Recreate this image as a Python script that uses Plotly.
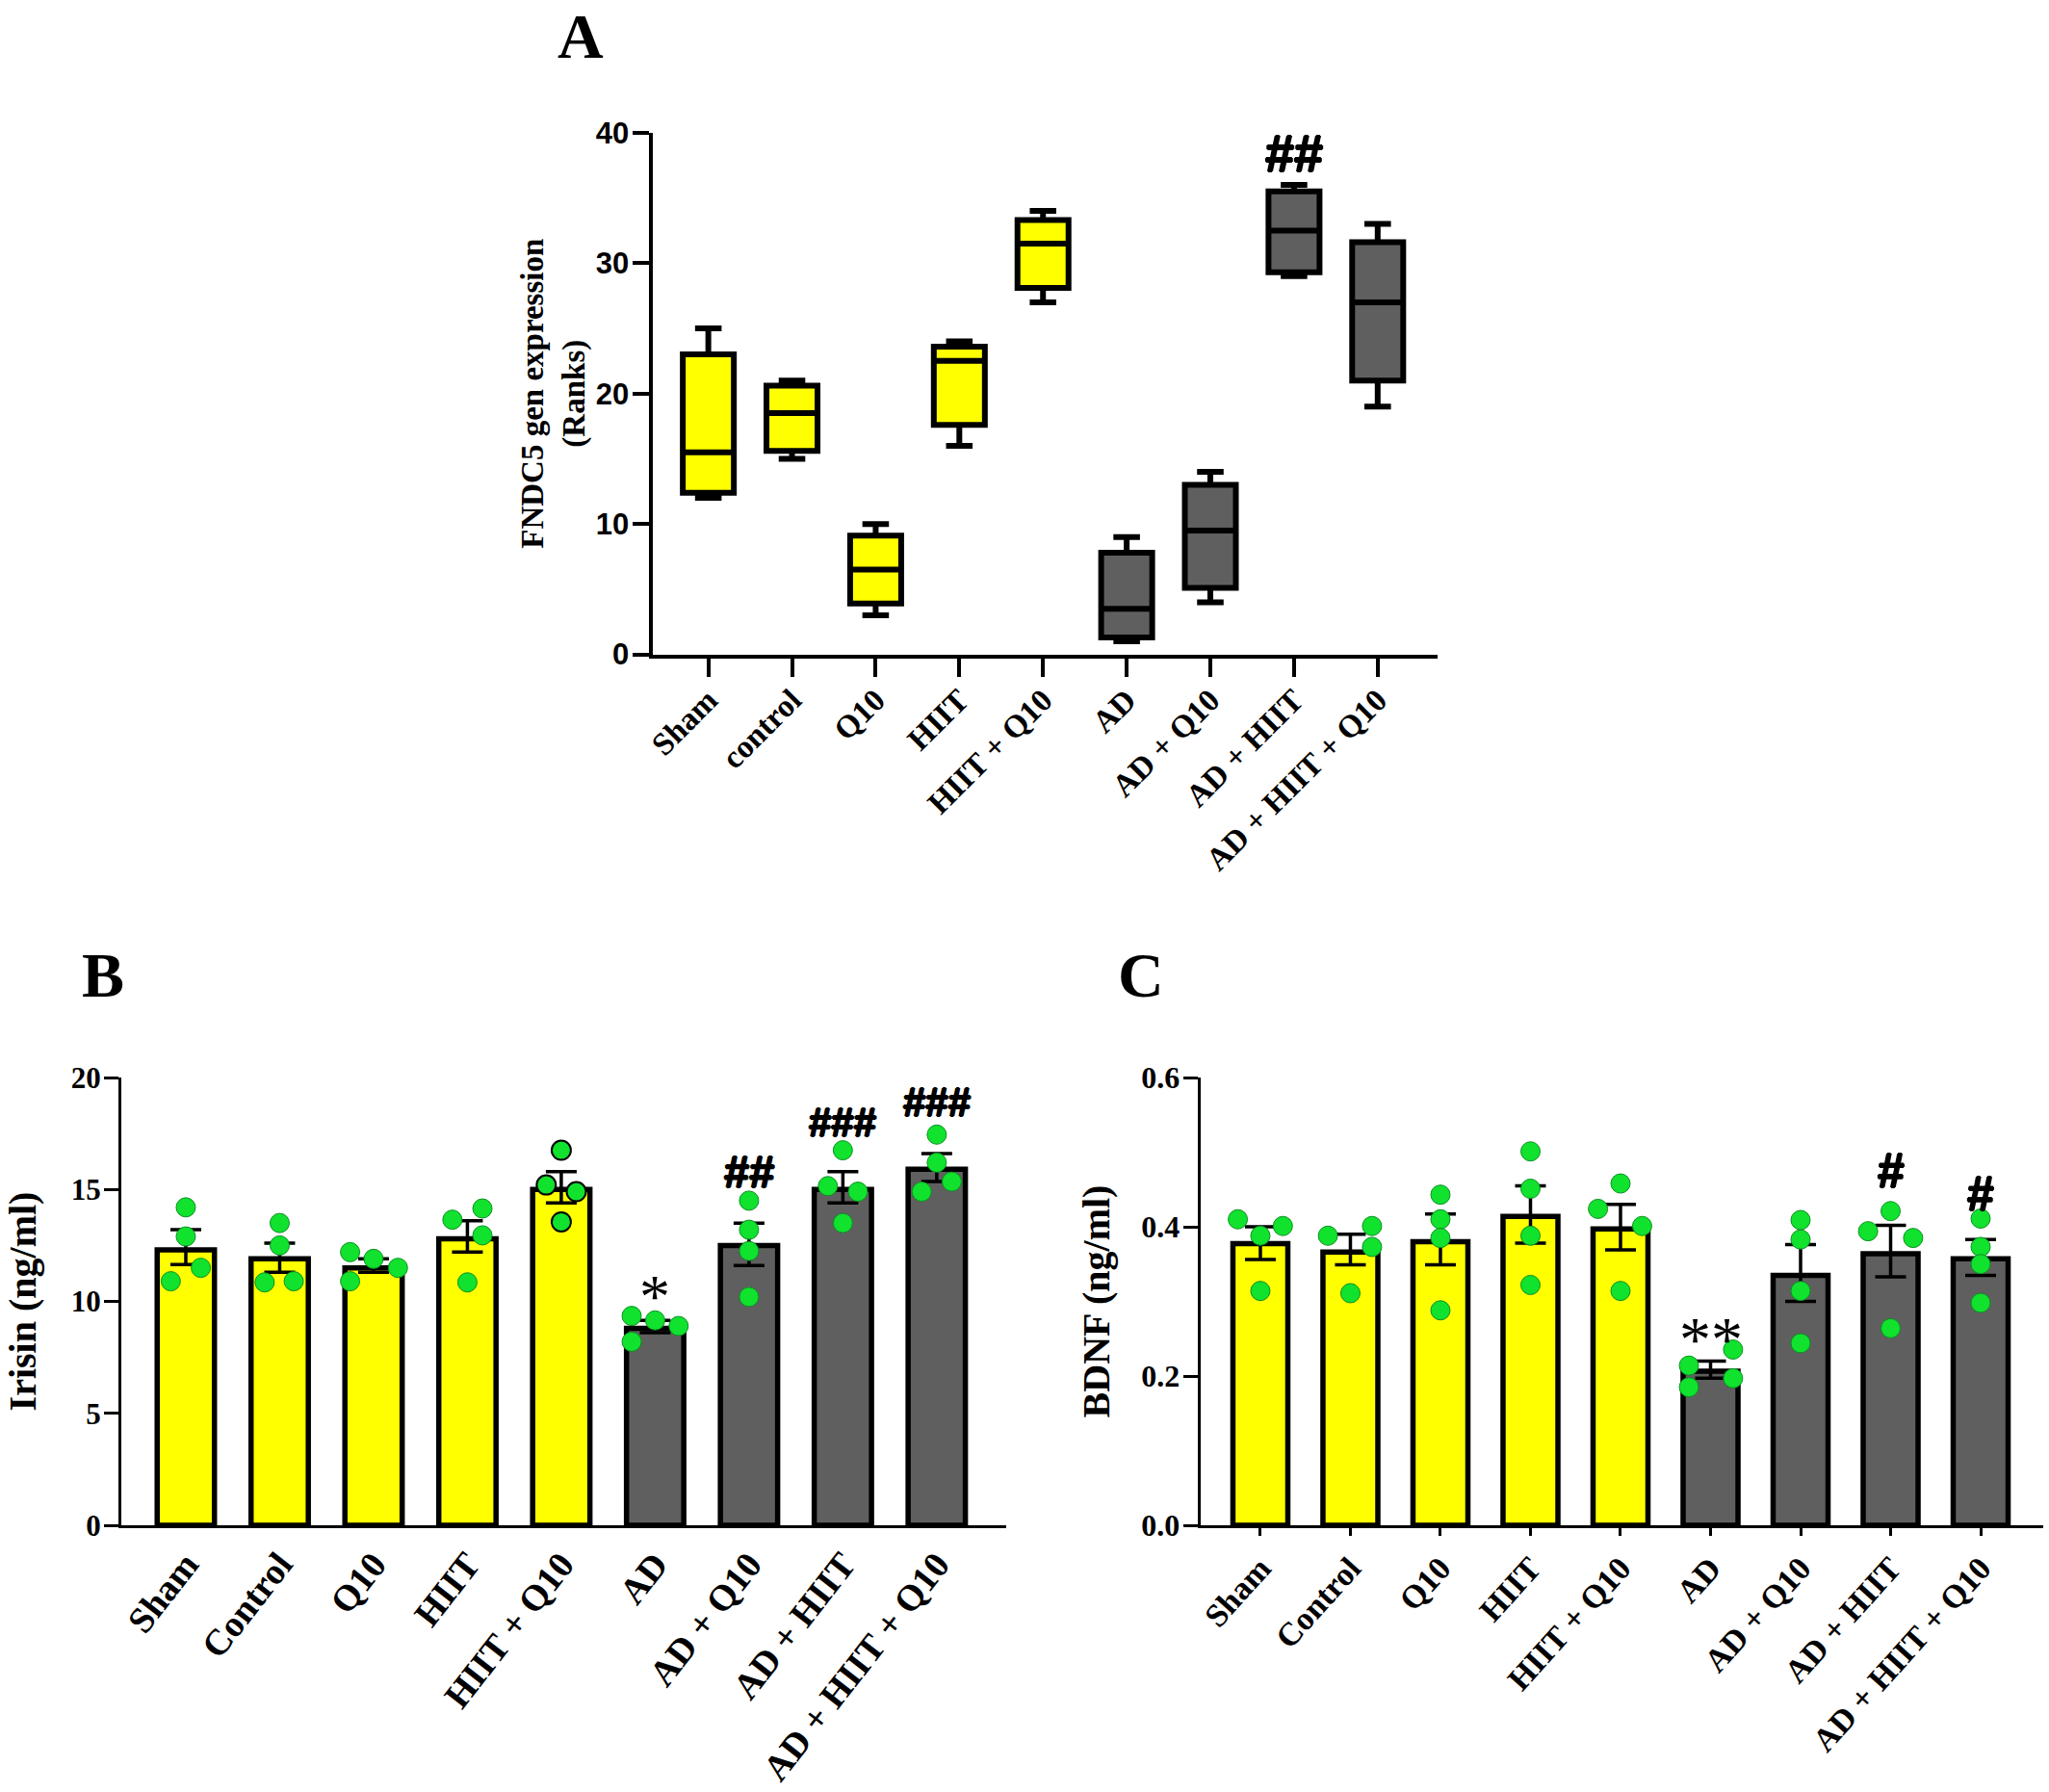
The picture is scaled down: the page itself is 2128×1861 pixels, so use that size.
import plotly.graph_objects as go

W, H = 2128, 1861
SERIF = "Liberation Serif"
NARROW = "Liberation Sans Narrow, Liberation Sans"
YELLOW, GRAY, GREEN = "#FFFF00", "#5F5F5F", "#10E22E"

labels_a = ["Sham", "control", "Q10", "HIIT", "HIIT + Q10", "AD", "AD + Q10", "AD + HIIT", "AD + HIIT + Q10"]
labels_bc = ["Sham", "Control", "Q10", "HIIT", "HIIT + Q10", "AD", "AD + Q10", "AD + HIIT", "AD + HIIT + Q10"]
bar_colors = [YELLOW] * 5 + [GRAY] * 4

# Panel A box statistics
a_low = [12, 15, 3, 16, 27, 1, 4, 29, 19]
a_q1 = [12.4, 15.6, 3.9, 17.6, 28.1, 1.3, 5.1, 29.3, 21]
a_med = [15.5, 18.5, 6.5, 22.5, 31.5, 3.5, 9.5, 32.5, 27]
a_q3 = [23, 20.6, 9.1, 23.6, 33.3, 7.8, 13, 35.5, 31.6]
a_high = [25, 21, 10, 24, 34, 9, 14, 36, 33]

# Panel B means, error bars and individual points
b_mean = [12.3, 11.9, 11.5, 12.8, 15.0, 8.8, 12.5, 15.0, 15.9]
b_hi = [13.2, 12.6, 11.9, 13.6, 15.8, 9.15, 13.5, 15.8, 16.6]
b_lo = [11.65, 11.3, 11.3, 12.2, 14.4, 8.6, 11.6, 14.4, 15.35]
b_points = [
    [14.2, 12.9, 11.5, 10.9], [13.5, 12.5, 10.85, 10.9], [12.2, 11.9, 11.5, 10.9],
    [14.15, 13.65, 12.95, 10.85], [16.75, 15.2, 14.9, 13.55], [9.35, 9.15, 8.9, 8.2],
    [14.5, 13.2, 12.25, 10.2], [16.75, 15.15, 14.9, 13.5], [17.45, 16.2, 15.35, 14.9],
]
b_jitter = [
    [0, 0, .16, -.16], [0, 0, -.16, .15], [-.25, 0, .26, -.25],
    [.16, -.16, .16, 0], [0, -.16, .16, 0], [-.25, 0, .25, -.25],
    [0, 0, 0, 0], [0, -.16, .16, 0], [0, 0, .16, -.16],
]

# Panel C means, error bars and individual points
c_mean = [.3775, .366, .38, .414, .397, .2065, .335, .364, .357]
c_hi = [.40, .39, .417, .455, .43, .22, .376, .402, .383]
c_lo = [.356, .349, .349, .378, .369, .197, .30, .333, .335]
c_points = [
    [.41, .401, .388, .314], [.388, .401, .373, .311], [.443, .41, .385, .288],
    [.501, .451, .388, .322], [.458, .424, .401, .314], [.2355, .214, .197, .185],
    [.409, .383, .314, .244], [.421, .394, .385, .264], [.411, .373, .35, .298],
]
c_jitter = [
    [-.25, .25, 0, 0], [-.25, .24, .24, 0], [0, 0, 0, 0],
    [0, 0, 0, 0], [0, -.25, .24, 0], [.25, -.24, .25, -.24],
    [0, 0, 0, 0], [0, -.25, .25, 0], [0, 0, 0, 0],
]

# significance marks: (category index, height, text, font size)
a_marks = [(7, 38.4, "##", 54)]
b_marks = [(5, 10.2, "*", 64), (6, 15.8, "##", 47), (7, 18.0, "###", 42), (8, 18.9, "###", 42)]
c_marks = [(5, .25, "**", 66), (7, .475, "#", 50), (8, .444, "#", 50)]

fig = go.Figure()


def dom_x(a, b):
    return [a / W, b / W]


def dom_y(top, bottom):
    return [1 - bottom / H, 1 - top / H]


def axes(n, xdom, ydom, xr, yr, ticks, ticktext, title, tick_font, xfont, line, xticklen, ylen, standoff, angle, xpad):
    xa = "xaxis" if n == 1 else f"xaxis{n}"
    ya = "yaxis" if n == 1 else f"yaxis{n}"
    fig.update_layout({
        xa: dict(domain=xdom, range=xr, tickmode="array", tickvals=list(range(9)), ticktext=ticktext,
                 tickangle=angle, showgrid=False, zeroline=False, showline=True, linecolor="black",
                 linewidth=line, ticks="outside" if xticklen else "", ticklen=xticklen or 1, tickwidth=line,
                 tickcolor="black", tickfont=xfont, ticklabelstandoff=xpad,
                 anchor=f"y{'' if n == 1 else n}", fixedrange=True),
        ya: dict(domain=ydom, range=yr, tickmode="array", tickvals=ticks[0], ticktext=ticks[1],
                 showgrid=False, zeroline=False, showline=True, linecolor="black", linewidth=line,
                 ticks="outside", ticklen=ylen, tickwidth=line, tickcolor="black", tickfont=tick_font,
                 ticklabelstandoff=-3, anchor=f"x{'' if n == 1 else n}", fixedrange=True,
                 title=dict(text=title[0], font=title[1], standoff=standoff)),
    })


def marks(items, xref, yref):
    for x, y, t, size in items:
        star = t.startswith("*")
        font = dict(family=SERIF if star else NARROW, size=size, color="black")
        if not star:
            font["shadow"] = "1px 0 0 black, -1px 0 0 black, 0 1px 0 black, 0 -1px 0 black"
        fig.add_annotation(x=x, y=y, xref=xref, yref=yref, text=t if star else f"<b>{t}</b>", showarrow=False,
                           font=font, yanchor="middle")


# Panel A
for idx, col in (([0, 1, 2, 3, 4], YELLOW), ([5, 6, 7, 8], GRAY)):
    fig.add_trace(go.Box(
        x=idx, q1=[a_q1[i] for i in idx], median=[a_med[i] for i in idx], q3=[a_q3[i] for i in idx],
        lowerfence=[a_low[i] for i in idx], upperfence=[a_high[i] for i in idx],
        fillcolor=col, line=dict(color="black", width=6), width=0.61, whiskerwidth=0.52,
        boxpoints=False, xaxis="x", yaxis="y", hoverinfo="skip"))
axes(1, dom_x(677.5, 1492.5), dom_y(137.8, 679.6), [-0.669, 8.71], [0, 40],
     ([0, 10, 20, 30, 40], ["0", "10", "20", "30", "40"]), labels_a,
     ("<b>FNDC5 gen expression<br>(Ranks)</b>", dict(family=SERIF, size=33, color="black")),
     dict(family=NARROW, size=31, color="black", weight="bold"),
     dict(family=SERIF, size=33, color="black", weight="bold"), 4, 19, 17, 2, -45, -8)
marks(a_marks, "x", "y")


def bars(n, mean, hi, lo, pts, jitter, outlined=()):
    xr, yr = ("x", "y") if n == 1 else (f"x{n}", f"y{n}")
    up = [h - m for h, m in zip(hi, mean)]
    down = [m - l for l, m in zip(lo, mean)]
    fig.add_trace(go.Bar(
        x=list(range(9)), y=mean, width=0.61, marker=dict(color=bar_colors, line=dict(color="black", width=5.5)),
        error_y=dict(type="data", symmetric=False, array=up, arrayminus=down, color="black", thickness=3.5, width=16),
        xaxis=xr, yaxis=yr, hoverinfo="skip"))
    xs, ys, edge, edge_w = [], [], [], []
    for i, (row, off) in enumerate(zip(pts, jitter)):
        for v, o in zip(row, off):
            xs.append(i + o)
            ys.append(v)
            edge.append("black" if i in outlined else "#0C8F22")
            edge_w.append(2 if i in outlined else 1)
    fig.add_trace(go.Scatter(
        x=xs, y=ys, mode="markers", marker=dict(size=20, color=GREEN, line=dict(color=edge, width=edge_w)),
        xaxis=xr, yaxis=yr, hoverinfo="skip"))


# Panel B
bars(2, b_mean, b_hi, b_lo, b_points, b_jitter, outlined=(4,))
axes(2, dom_x(126, 1045), dom_y(1119, 1584), [-0.687, 8.74], [0, 20],
     ([0, 5, 10, 15, 20], ["0", "5", "10", "15", "20"]), labels_bc,
     ("<b>Irisin (ng/ml)</b>", dict(family=SERIF, size=40, color="black")),
     dict(family=SERIF, size=31, color="black", weight="bold"),
     dict(family=SERIF, size=38, color="black", weight="bold"), 3, 0, 15, 24, -52, 0)
marks(b_marks, "x2", "y2")

# Panel C
bars(3, c_mean, c_hi, c_lo, c_points, c_jitter)
axes(3, dom_x(1246.6, 2122), dom_y(1119, 1584), [-0.667, 8.695], [0, 0.6],
     ([0, .2, .4, .6], ["0.0", "0.2", "0.4", "0.6"]), labels_bc,
     ("<b>BDNF (ng/ml)</b>", dict(family=SERIF, size=40, color="black")),
     dict(family=SERIF, size=32, color="black", weight="bold"),
     dict(family=SERIF, size=34, color="black", weight="bold"), 3, 8, 15, 21, -48, 0)
marks(c_marks, "x3", "y3")

# Panel letters
for t, px, py, anchor in (("A", 603, 0, "top"), ("B", 107, 1012, "middle"), ("C", 1185, 1012, "middle")):
    fig.add_annotation(x=px / W, y=1 - py / H, xref="paper", yref="paper", text=f"<b>{t}</b>", showarrow=False,
                       font=dict(family=SERIF, size=66, color="black"), xanchor="center", yanchor=anchor,
                       borderpad=0)

fig.update_layout(width=W, height=H, autosize=False, margin=dict(l=0, r=0, t=0, b=0, autoexpand=False),
                  showlegend=False, paper_bgcolor="white", plot_bgcolor="white")
fig.write_html("out.html", post_script="document.body.style.margin='0';document.body.style.overflow='hidden';",
               config=dict(displayModeBar=False))
